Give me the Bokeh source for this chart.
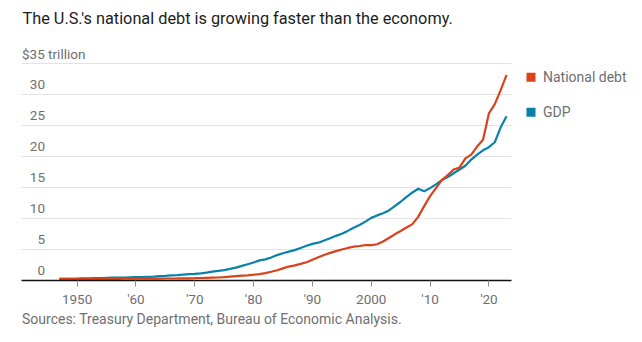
from bokeh.plotting import figure
from bokeh.models import FixedTicker, LinearAxis, Range1d
from bokeh.core.properties import value
from bokeh.embed import file_html
from bokeh.resources import INLINE

# Annual values, trillions of dollars
years = list(range(1947, 2024))

debt = [
    0.26, 0.25, 0.25, 0.26, 0.26, 0.26, 0.27, 0.27, 0.27, 0.27,   # 1947-1956
    0.27, 0.28, 0.28, 0.29, 0.29, 0.30, 0.31, 0.31, 0.32, 0.32,   # 1957-1966
    0.33, 0.35, 0.35, 0.37, 0.40, 0.43, 0.46, 0.48, 0.54, 0.63,   # 1967-1976
    0.71, 0.78, 0.83, 0.93, 1.03, 1.20, 1.41, 1.66, 1.95, 2.25,   # 1977-1986
    2.43, 2.68, 2.95, 3.36, 3.75, 4.12, 4.45, 4.73, 5.00, 5.25,   # 1987-1996
    5.45, 5.56, 5.70, 5.70, 5.85, 6.30, 6.85, 7.45, 7.98, 8.55,   # 1997-2006
    9.10, 10.30, 12.00, 13.60, 14.90, 16.20, 17.00, 17.90, 18.20, 19.70,  # 2007-2016
    20.30, 21.60, 22.70, 26.95, 28.45, 30.70, 33.15,              # 2017-2023
]

gdp = [
    0.25, 0.27, 0.27, 0.30, 0.34, 0.36, 0.38, 0.38, 0.43, 0.45,   # 1947-1956
    0.47, 0.48, 0.52, 0.54, 0.56, 0.60, 0.64, 0.69, 0.74, 0.82,   # 1957-1966
    0.86, 0.94, 1.02, 1.07, 1.16, 1.28, 1.43, 1.55, 1.68, 1.87,   # 1967-1976
    2.08, 2.35, 2.63, 2.90, 3.25, 3.40, 3.70, 4.10, 4.40, 4.65,   # 1977-1986
    4.90, 5.25, 5.60, 5.90, 6.10, 6.45, 6.80, 7.20, 7.55, 8.00,   # 1987-1996
    8.50, 8.95, 9.50, 10.10, 10.50, 10.85, 11.30, 12.00, 12.70, 13.50,  # 1997-2006
    14.20, 14.80, 14.40, 14.90, 15.50, 16.20, 16.70, 17.30, 17.90, 18.50,  # 2007-2016
    19.50, 20.30, 21.00, 21.50, 22.30, 24.70, 26.50,              # 2017-2023
]

y_ticks = [5, 10, 15, 20, 25, 30, 35]
y_label_values = [0, 5, 10, 15, 20, 25, 30]
y_label_texts = ["0", "5", "10", "15", "20", "25", "30"]
y_top_label = "$35 trillion"

x_ticks = [1950, 1960, 1970, 1980, 1990, 2000, 2010, 2020]
x_tick_labels = ["1950", "'60", "'70", "'80", "'90", "2000", "'10", "'20"]

title_text = "The U.S.'s national debt is growing faster than the economy."
source_text = "Sources: Treasury Department, Bureau of Economic Analysis."
series_names = ["National debt", "GDP"]

RED = "#d9421a"
BLUE = "#0882ab"
GREY = "#6f6f6f"
FONT = "Roboto"

# Chart body: years X0..X1 and values 0..35; the ranges are widened so the
# title, notes and key share the same canvas.
X0, X1 = 1940.55, 2023.85
PX_PER_YEAR = 5.883
PX_PER_UNIT = 6.2
LEFT, BASE = 21, 280          # canvas column of X0 and row of value 0
W, H = 642, 342

x_range = Range1d(X0 - LEFT / PX_PER_YEAR, X0 + (W - LEFT) / PX_PER_YEAR)
y_range = Range1d(-(H - BASE) / PX_PER_UNIT, BASE / PX_PER_UNIT)

def ypix(py):
    """data value sitting at canvas row py"""
    return (BASE - py) / PX_PER_UNIT

def xpix(px):
    """year sitting at canvas column px"""
    return X0 + (px - LEFT) / PX_PER_YEAR

p = figure(
    width=W, height=H, x_range=x_range, y_range=y_range,
    output_backend="svg", toolbar_location=None,
    x_axis_location=None, y_axis_location=None,
    min_border=0, outline_line_color=None,
)
p.grid.visible = False

# horizontal gridlines spanning the chart body
p.segment(x0=[X0] * len(y_ticks), x1=[X1] * len(y_ticks), y0=y_ticks, y1=y_ticks,
          line_color="#e3e3e3", line_width=1)

# x axis pinned at zero
ax = LinearAxis(fixed_location=0, bounds=(X0, X1))
ax.ticker = FixedTicker(ticks=x_ticks)
ax.major_label_overrides = dict(zip(x_ticks, x_tick_labels))
ax.axis_line_color = "#111111"
ax.axis_line_width = 1.6
ax.major_tick_line_color = "#8a8a8a"
ax.major_tick_in = 0
ax.major_tick_out = 6
ax.minor_tick_line_color = None
ax.major_label_standoff = 4
ax.major_label_text_font = FONT
ax.major_label_text_font_size = "13.5px"
ax.major_label_text_color = GREY
p.add_layout(ax, "below")

# the two series
p.line(years, gdp, line_color=BLUE, line_width=2.2)
p.line(years, debt, line_color=RED, line_width=2.2)

# value labels sitting just above each gridline
p.text(x=[xpix(44.5)] * len(y_label_values), y=[v + 1.6 for v in y_label_values],
       text=y_label_texts, text_align="right", text_baseline="middle",
       text_font=value(FONT), text_font_size="13.5px", text_color=GREY)
p.text(x=[xpix(21.5)], y=[35 + 1.5], text=[y_top_label],
       text_align="left", text_baseline="middle",
       text_font=value(FONT), text_font_size="13.5px", text_color=GREY)

# title and source note
p.text(x=[xpix(22)], y=[ypix(18)], text=[title_text],
       text_align="left", text_baseline="middle",
       text_font=value(FONT), text_font_size="16.3px", text_color="#1c1c1c")
p.text(x=[xpix(21.5)], y=[ypix(318.5)], text=[source_text],
       text_align="left", text_baseline="middle",
       text_font=value(FONT), text_font_size="14px", text_color=GREY)

# key: square swatches with series names
key_rows = [ypix(76.7), ypix(111.7)]
p.scatter(x=[xpix(530.5)] * 2, y=key_rows, marker="square", size=9,
          fill_color=[RED, BLUE], line_color=None)
p.text(x=[xpix(542.5)] * 2, y=key_rows, text=series_names,
       text_align="left", text_baseline="middle",
       text_font=value(FONT), text_font_size="14px", text_color=GREY)

open("out.html", "w").write(file_html(p, INLINE))
